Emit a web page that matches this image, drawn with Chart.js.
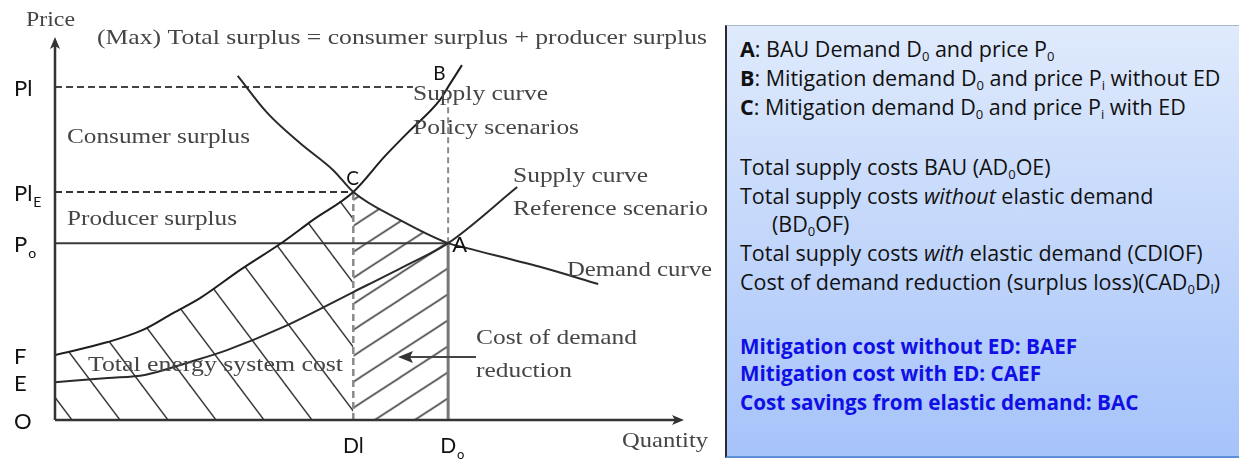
<!DOCTYPE html>
<html>
<head>
<meta charset="UTF-8">
<title>Total surplus</title>
<script src="https://cdn.jsdelivr.net/npm/chart.js"></script>
<style>
  body { margin:0; background:#fff; width:1239px; height:459px; overflow:hidden; position:relative; font-family: "Open Sans", sans-serif; }
  #wrap { position:absolute; left:0; top:0; width:725px; height:459px; }
  #panel { position:absolute; left:725px; top:25px; width:530px; height:430px; border-left:2px solid #2b2b2b; border-top:1px solid #a9b6c8; border-bottom:2px solid #5b8fd8; background: linear-gradient(#dfeafc, #a6c3fa); }
  .ln { position:absolute; left:13px; font-size:21.5px; line-height:29px; color:#111; white-space:nowrap; }
  .ln sub { font-size:13px; vertical-align:-4px; line-height:0; }
  .blue { color:#1010e6; font-weight:700; font-size:20.7px; }
</style>
</head>
<body>
<div id="wrap"><canvas id="chart"></canvas></div>
<div id="panel">
  <div class="ln" style="top:8px"><b>A</b>: BAU Demand D<sub>0</sub> and price P<sub>0</sub></div>
  <div class="ln" style="top:37px"><b>B</b>: Mitigation demand D<sub>0</sub> and price P<sub>i</sub> without ED</div>
  <div class="ln" style="top:66px"><b>C</b>: Mitigation demand D<sub>0</sub> and price P<sub>i</sub> with ED</div>
  <div class="ln" style="top:126px">Total supply costs BAU (AD<sub>0</sub>OE)</div>
  <div class="ln" style="top:155px">Total supply costs <i>without</i> elastic demand</div>
  <div class="ln" style="top:183px;left:45px">(BD<sub>0</sub>OF)</div>
  <div class="ln" style="top:212px">Total supply costs <i>with</i> elastic demand (CDlOF)</div>
  <div class="ln" style="top:241px">Cost of demand reduction (surplus loss)(CAD<sub>0</sub>D<sub>l</sub>)</div>
  <div class="ln blue" style="top:306px">Mitigation cost without ED: BAEF</div>
  <div class="ln blue" style="top:333px">Mitigation cost with ED: CAEF</div>
  <div class="ln blue" style="top:362px">Cost savings from elastic demand: BAC</div>
</div>

<script>
// levels on the price axis and their labels ("|" starts a subscript)
const priceLevels = [87.2, 59.7, 46.3, 17.0, 9.9, 0];
const priceLabels = ['Pl', 'Pl|E', 'P|o', 'F', 'E', 'O'];
const quantityLevels = [47.5, 62.6];
const quantityLabels = ['Dl', 'D|o'];

// curves (quantity 0-100, price 0-100)
const demandQ = [29.1, 33.8, 39.0, 44.3, 47.5, 54.9, 62.6, 65.6, 77.2, 86.5];
const demandP = [90.1, 80.4, 72.5, 65.4, 59.7, 52.4, 46.3, 45.0, 40.1, 35.6];
const policyQ = [0, 8.4, 14.0, 18.8, 23.1, 29.5, 36.3, 41.1, 47.5, 52.5, 56.1, 61.3, 62.6, 64.8];
const policyP = [17.0, 20.4, 23.6, 28.0, 31.9, 39.3, 46.6, 52.4, 59.7, 69.0, 75.1, 83.8, 87.2, 92.9];
const refQ = [0, 8.4, 14.3, 21.5, 27.4, 36.3, 47.5, 55.7, 62.6, 73.6];
const refP = [9.9, 11.0, 11.8, 15.2, 18.3, 24.3, 33.5, 40.3, 46.3, 61.0];

const pointNames = ['A', 'B', 'C'];
const pointQ = [62.6, 62.6, 47.5];
const pointP = [46.3, 87.2, 59.7];
const plDashEndQ = 57.0;
const d0DashTopP = 84.6;

const xy = (qs, ps) => qs.map((q, i) => ({ x: q, y: ps[i] }));
const upTo = (qs, ps, lo, hi) => xy(qs, ps).filter(p => p.x >= lo - 1e-6 && p.x <= hi + 1e-6);

function hatchTile(w, h, back) {
  const c = document.createElement('canvas');
  c.width = w; c.height = h;
  const g = c.getContext('2d');
  g.strokeStyle = '#3a3a3a';
  g.lineWidth = 1.5;
  for (const off of [-w, 0, w]) {
    g.beginPath();
    if (back) { g.moveTo(off - w * 0.2, -h * 0.2); g.lineTo(off + w * 1.2, h * 1.2); }
    else { g.moveTo(off - w * 0.2, h * 1.2); g.lineTo(off + w * 1.2, -h * 0.2); }
    g.stroke();
  }
  return c;
}

const ctx = document.getElementById('chart').getContext('2d');
const backHatch = ctx.createPattern(hatchTile(48, 64, true), 'repeat');
backHatch.setTransform(new DOMMatrix([1, 0, 0, 1, -3, 0]));
const fwdHatch = ctx.createPattern(hatchTile(40, 26, false), 'repeat');
fwdHatch.setTransform(new DOMMatrix([1, 0, 0, 1, 0, 13.45]));

const serif = '"Liberation Serif", "Times New Roman", serif';
const sans = 'Lato, "Open Sans", sans-serif';

function fitText(c, text, x, y, size, width, font, color) {
  c.font = size + 'px ' + font;
  c.fillStyle = color;
  const w = c.measureText(text).width;
  c.save();
  c.translate(x, y);
  c.scale(width / w, 1);
  c.fillText(text, 0, 0);
  c.restore();
}

function subLabel(c, label, x, y, size, align) {
  const [main, sub] = label.split('|');
  c.font = size + 'px ' + sans;
  const mw = c.measureText(main).width;
  const x0 = align === 'center' ? x - mw / 2 : x;
  c.textAlign = 'left';
  c.fillText(main, x0, y);
  if (sub) {
    c.font = Math.round(size * 0.62) + 'px ' + sans;
    c.fillText(sub, x0 + mw + 1, y + 6);
  }
}

const notes = [
  ['Price', 26, 26, 20, 49],
  ['(Max) Total surplus = consumer surplus + producer surplus', 97, 44, 21, 610],
  ['Consumer surplus', 67, 143, 22, 183],
  ['Producer surplus', 67, 225, 22, 170],
  ['Supply curve', 413, 100, 22, 135],
  ['Policy scenarios', 413, 134, 22, 166],
  ['Supply curve', 513, 182, 22, 135],
  ['Reference scenario', 513, 215, 22, 195],
  ['Demand curve', 567, 276, 22, 145],
  ['Cost of demand', 476, 344, 22, 161],
  ['reduction', 476, 377, 22, 96],
  ['Total energy system cost', 88, 371, 22, 255],
  ['Quantity', 622, 447, 22, 86]
];

const diagram = {
  id: 'diagram',
  afterDatasetsDraw(chart) {
    const c = chart.ctx;
    const xs = chart.scales.x, ys = chart.scales.y;
    const x0 = xs.getPixelForValue(0), y0 = ys.getPixelForValue(0);
    const yTop = ys.getPixelForValue(100), xEnd = xs.getPixelForValue(100);
    c.save();
    // axes with arrow heads
    c.strokeStyle = '#333'; c.fillStyle = '#333'; c.lineWidth = 2.5;
    c.beginPath(); c.moveTo(x0, y0); c.lineTo(x0, yTop + 8); c.moveTo(x0, y0); c.lineTo(xEnd - 8, y0); c.stroke();
    c.beginPath(); c.moveTo(x0, yTop - 1); c.lineTo(x0 - 5, yTop + 11); c.lineTo(x0, yTop + 8); c.lineTo(x0 + 5, yTop + 11); c.closePath(); c.fill();
    c.beginPath(); c.moveTo(xEnd + 1, y0); c.lineTo(xEnd - 11, y0 - 5); c.lineTo(xEnd - 8, y0); c.lineTo(xEnd - 11, y0 + 5); c.closePath(); c.fill();

    // arrow "cost of demand reduction"
    c.lineWidth = 1.8; c.strokeStyle = '#444'; c.fillStyle = '#333';
    c.beginPath(); c.moveTo(476, 357); c.lineTo(410, 357); c.stroke();
    c.beginPath(); c.moveTo(398, 357); c.lineTo(413, 351); c.lineTo(410, 357); c.lineTo(413, 363); c.closePath(); c.fill();

    // serif annotations
    c.textBaseline = 'alphabetic'; c.textAlign = 'left';
    notes.forEach(n => fitText(c, n[0], n[1], n[2], n[3], n[4], serif, '#454545'));

    // axis labels
    c.fillStyle = '#111';
    priceLevels.forEach((v, i) => subLabel(c, priceLabels[i], 14, ys.getPixelForValue(v) + 9, 22, 'left'));
    quantityLevels.forEach((v, i) => subLabel(c, quantityLabels[i], xs.getPixelForValue(v), 453, 21, 'center'));

    // point names
    const offs = [[4, 9, 22], [-15, -7, 19], [-7, -7, 19]];
    pointNames.forEach((n, i) => {
      c.font = offs[i][2] + 'px ' + sans;
      c.fillText(n, xs.getPixelForValue(pointQ[i]) + offs[i][0], ys.getPixelForValue(pointP[i]) + offs[i][1]);
    });
    c.restore();
  }
};

const curve = (data, color, width) => ({
  data, showLine: true, borderColor: color, borderWidth: width, pointRadius: 0,
  cubicInterpolationMode: 'monotone', fill: false
});
const guide = (data, color, width, dash) => ({
  data, showLine: true, borderColor: color, borderWidth: width, borderDash: dash || [],
  pointRadius: 0, fill: false, tension: 0
});

new Chart(ctx, {
  type: 'scatter',
  data: {
    datasets: [
      curve(xy(demandQ, demandP), '#2a2a2a', 2),
      curve(xy(policyQ, policyP), '#1e1e1e', 2),
      curve(xy(refQ, refP), '#2a2a2a', 2),
      guide([{ x: 0, y: pointP[0] }, { x: pointQ[0], y: pointP[0] }], '#3a3a3a', 2),
      guide([{ x: 0, y: pointP[1] }, { x: plDashEndQ, y: pointP[1] }], '#444', 2, [7, 4]),
      guide([{ x: 0, y: pointP[2] }, { x: pointQ[2], y: pointP[2] }], '#333', 2, [7, 4]),
      guide([{ x: pointQ[2], y: 0 }, { x: pointQ[2], y: pointP[2] }], '#8a8a8a', 2.5, [7, 4]),
      guide([{ x: pointQ[0], y: pointP[0] }, { x: pointQ[0], y: d0DashTopP }], '#8a8a8a', 2, [6, 4]),
      guide([{ x: pointQ[0], y: 0 }, { x: pointQ[0], y: pointP[0] }], '#777', 3),
      {
        data: upTo(demandQ, demandP, pointQ[2], pointQ[0]), showLine: true, borderColor: 'rgba(0,0,0,0)',
        pointRadius: 0, cubicInterpolationMode: 'monotone', fill: 'origin', backgroundColor: fwdHatch
      },
      {
        data: upTo(policyQ, policyP, 0, pointQ[2]), showLine: true, borderColor: 'rgba(0,0,0,0)',
        pointRadius: 0, cubicInterpolationMode: 'monotone', fill: 'origin', backgroundColor: backHatch
      }
    ]
  },
  options: {
    responsive: true,
    maintainAspectRatio: false,
    animation: false,
    events: [],
    layout: { padding: { left: 55, right: 42, top: 38, bottom: 39 } },
    scales: {
      x: { type: 'linear', min: 0, max: 100, display: false },
      y: { type: 'linear', min: 0, max: 100, display: false }
    },
    plugins: { legend: { display: false }, tooltip: { enabled: false } }
  },
  plugins: [diagram]
});
</script>
</body>
</html>
